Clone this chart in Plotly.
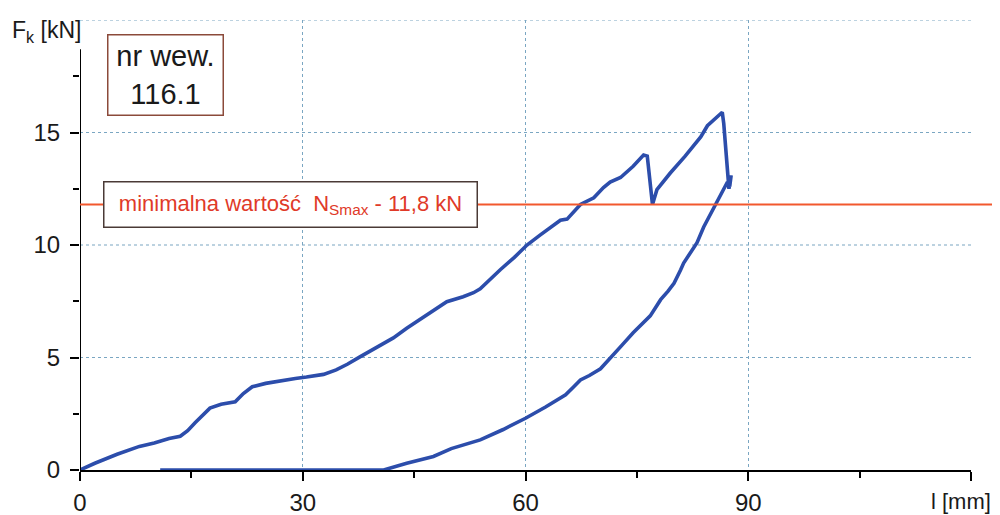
import plotly.graph_objects as go

# ---- data ----
l_mm = [0, 2, 5, 8, 10, 12, 13.5, 14.5, 15.5, 16.5, 17.5, 19, 20.9, 22, 23.2, 25, 27, 29, 30.5,
        32.8, 34.5, 36, 37.7, 40, 42.2, 44, 45.8, 47.6, 49.4, 51.6, 53, 53.9, 55, 56.6, 58.5,
        60.2, 62, 63.5, 64.7, 65.6, 67.4, 69.2, 70.5, 71.4, 72.8, 74.5, 75.9, 76.4, 77.1, 77.7,
        79.5, 81.5, 83.6, 84.5, 85.5, 86.5, 86.7, 87.0, 87.3, 87.4, 87.7, 87.5, 87.2, 86.4, 85.6,
        84.8, 84.0, 83.1, 82.3, 81.3, 80.9, 80.0, 79.2, 78.2, 76.8, 74.5, 73.0, 71.8, 70.1, 68.6,
        67.4, 66.5, 65.4, 62.7, 60.0, 57.0, 53.9, 50.0, 47.6, 44.0, 40.9, 10.8]
F_kN = [0, 0.3, 0.7, 1.05, 1.2, 1.4, 1.5, 1.75, 2.1, 2.45, 2.75, 2.92, 3.03, 3.4, 3.7, 3.85, 3.97,
        4.07, 4.13, 4.25, 4.45, 4.7, 5.03, 5.45, 5.87, 6.3, 6.7, 7.1, 7.48, 7.7, 7.88, 8.05, 8.4,
        8.9, 9.45, 10.0, 10.45, 10.8, 11.1, 11.15, 11.8, 12.1, 12.55, 12.8, 13.0, 13.5, 14.0, 13.95,
        11.8, 12.46, 13.2, 13.95, 14.8, 15.3, 15.6, 15.9, 15.4, 14.2, 13.0, 12.5, 13.1, 12.6, 12.8,
        12.3, 11.8, 11.25, 10.8, 10.1, 9.7, 9.2, 8.9, 8.3, 7.95, 7.57, 6.85, 6.1, 5.55, 5.1, 4.5,
        4.2, 4.0, 3.7, 3.34, 2.8, 2.3, 1.8, 1.34, 0.95, 0.6, 0.3, 0.0, 0.0]

x_ticks = [0, 30, 60, 90, 120]
x_ticktext = ["0", "30", "60", "90", ""]
x_minor = [15, 45, 75, 105]
y_ticks = [0, 5, 10, 15]
y_minor = [2.5, 7.5, 12.5, 17.5]
y_grid = [5, 10, 15, 20]
x_range = [0, 120]
y_range = [0, 20]
y_axis_top = 18.7
N_min = 11.8

FONT = "Liberation Sans, Arial, sans-serif"
GRID = "#7aa6c2"
BLUE = "#2c4dab"
RED_LINE = "#f2582e"
RED_TEXT = "#e03a28"

fig = go.Figure()
fig.add_trace(go.Scatter(x=l_mm, y=F_kN, mode="lines",
                         line=dict(color=BLUE, width=3.6), showlegend=False,
                         hoverinfo="skip"))

shapes = []
for g in y_grid:
    shapes.append(dict(type="line", xref="x", yref="y", x0=x_range[0], x1=x_range[1],
                       y0=g, y1=g, line=dict(color=GRID, width=1.2, dash="dot"), layer="below"))
# y axis line (stops below the axis title)
shapes.append(dict(type="line", xref="x", yref="y", x0=0, x1=0, y0=0, y1=y_axis_top,
                   line=dict(color="black", width=2), layer="above"))
# minimum value line
shapes.append(dict(type="line", xref="paper", yref="y", x0=0, x1=1.04, y0=N_min, y1=N_min,
                   line=dict(color=RED_LINE, width=2), layer="above"))

annotations = [
    dict(xref="x", yref="y", x=28.4, y=N_min, xanchor="center", yanchor="middle",
         text="minimalna wartość  N<sub>Smax</sub> - 11,8 kN", showarrow=False,
         font=dict(family=FONT, size=22, color=RED_TEXT),
         bgcolor="white", bordercolor="#4a3a36", borderwidth=1.5, borderpad=0,
         width=372, height=44),
    dict(xref="x", yref="y", x=11.5, y=17.55, xanchor="center", yanchor="middle",
         text="nr wew.<br>116.1", showarrow=False,
         font=dict(family=FONT, size=29, color="#1a1a1a"),
         bgcolor="white", bordercolor="#8b4a3a", borderwidth=1.5, borderpad=0,
         width=114, height=79),
    dict(xref="paper", yref="paper", x=-0.0786, y=0.975, xanchor="left", yanchor="middle",
         text="F<sub>k</sub> [kN]", showarrow=False,
         font=dict(family=FONT, size=23, color="#1a1a1a")),
    dict(xref="paper", yref="paper", x=1.0247, y=-0.071, xanchor="right", yanchor="middle",
         text="l [mm]", showarrow=False,
         font=dict(family=FONT, size=22, color="#1a1a1a")),
]

# page body has an 8px default margin: size/offset the figure so the plot area lands
# at the reference position within the 1000x515 window
fig.update_layout(
    width=992, height=507,
    margin=dict(l=72, r=29, t=12, b=45),
    paper_bgcolor="white", plot_bgcolor="white",
    shapes=shapes, annotations=annotations,
    font=dict(family=FONT, color="#1a1a1a"),
)
fig.update_xaxes(range=x_range, tickmode="array", tickvals=x_ticks, ticktext=x_ticktext,
                 showline=True, linecolor="black", linewidth=2, automargin=False,
                 ticks="outside", ticklen=9, tickwidth=2, tickcolor="black",
                 tickfont=dict(family=FONT, size=24, color="#1a1a1a"),
                 ticklabelstandoff=1,
                 showgrid=True, gridcolor=GRID, gridwidth=1.2, griddash="dot",
                 zeroline=False,
                 minor=dict(tickmode="array", tickvals=x_minor, ticks="outside",
                            ticklen=6, tickwidth=2, tickcolor="black", showgrid=False))
fig.update_yaxes(range=y_range, tickmode="array", tickvals=y_ticks, automargin=False,
                 showline=False, showgrid=False, zeroline=False,
                 ticks="outside", ticklen=9, tickwidth=2, tickcolor="black",
                 tickfont=dict(family=FONT, size=24, color="#1a1a1a"),
                 ticklabelstandoff=5,
                 minor=dict(tickmode="array", tickvals=y_minor, ticks="outside",
                            ticklen=6, tickwidth=2, tickcolor="black", showgrid=False))

fig.write_html("out.html")
